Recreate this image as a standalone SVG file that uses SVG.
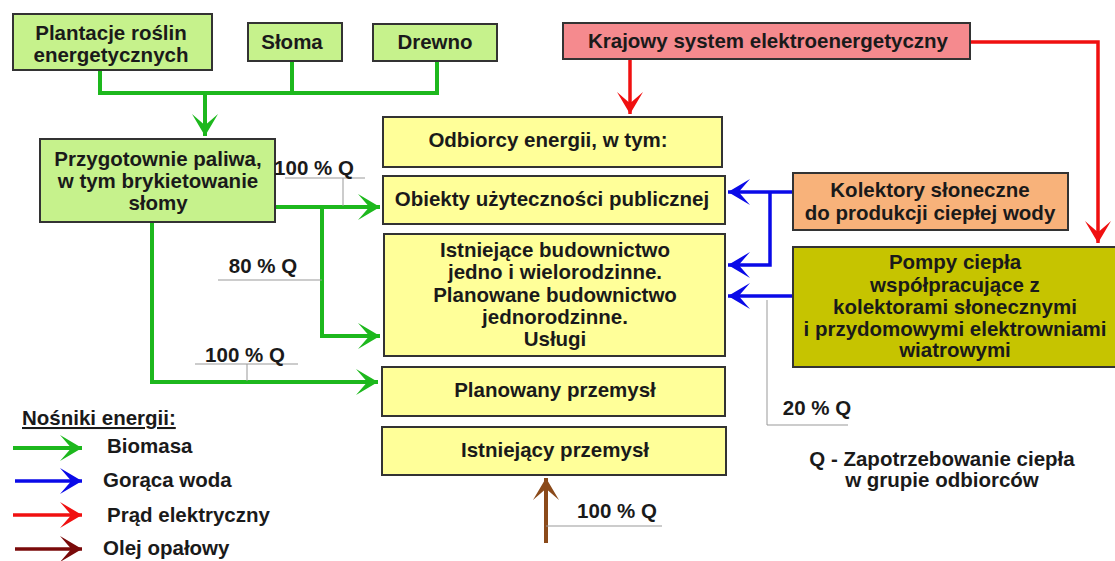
<svg xmlns="http://www.w3.org/2000/svg" width="1115" height="561" viewBox="0 0 1115 561">
<style>
text{font-family:"Liberation Sans",Arial,sans-serif;font-weight:bold;font-size:20.5px;fill:#1a1a1a;text-anchor:middle}
.box{stroke:#333;stroke-width:2}
.g{fill:#c6f28c}.y{fill:#ffff99}.r{fill:#f58a8e}.o{fill:#f8b27a}.ol{fill:#c6c400}
.lg{stroke:#1db81d;stroke-width:4;fill:none}
.lb{stroke:#0a0ae8;stroke-width:3.5;fill:none}
.lr{stroke:#f01010;stroke-width:3.5;fill:none}
.lbr{stroke:#8b4a1a;stroke-width:4;fill:none}
.thin{stroke:#999;stroke-width:1;fill:none}
.st{text-anchor:start}
</style>
<defs>
<marker id="ag" markerUnits="userSpaceOnUse" markerWidth="30" markerHeight="30" viewBox="-24 -15 26 30" refX="0" refY="0" orient="auto"><path d="M0,0 L-22,-13 L-12,-1.5 L-12,1.5 L-22,13 Z" fill="#1db81d"/></marker>
<marker id="ab" markerUnits="userSpaceOnUse" markerWidth="30" markerHeight="30" viewBox="-24 -15 26 30" refX="0" refY="0" orient="auto"><path d="M0,0 L-22,-13 L-12,-1.5 L-12,1.5 L-22,13 Z" fill="#0a0ae8"/></marker>
<marker id="ar" markerUnits="userSpaceOnUse" markerWidth="30" markerHeight="30" viewBox="-24 -15 26 30" refX="0" refY="0" orient="auto"><path d="M0,0 L-22,-13 L-12,-1.5 L-12,1.5 L-22,13 Z" fill="#f01010"/></marker>
<marker id="abr" markerUnits="userSpaceOnUse" markerWidth="30" markerHeight="30" viewBox="-24 -15 26 30" refX="0" refY="0" orient="auto"><path d="M0,0 L-22,-13 L-12,-1.5 L-12,1.5 L-22,13 Z" fill="#8b4a1a"/></marker>
<marker id="am" markerUnits="userSpaceOnUse" markerWidth="30" markerHeight="30" viewBox="-24 -15 26 30" refX="0" refY="0" orient="auto"><path d="M0,0 L-22,-13 L-12,-1.5 L-12,1.5 L-22,13 Z" fill="#7a0a0a"/></marker>
</defs>
<rect width="1115" height="561" fill="#fff"/>

<g id="connectors">
<path class="lg" d="M100,70 V93 H437 V62 M292,62 V93"/>
<path class="lg" d="M205,93 V136" marker-end="url(#ag)"/>
<path class="lg" d="M275,207 H380" marker-end="url(#ag)"/>
<path class="lg" d="M322,207 V336 H380" marker-end="url(#ag)"/>
<path class="lg" d="M152,222 V382 H378" marker-end="url(#ag)"/>
<path class="lr" d="M630,59 V114" marker-end="url(#ar)"/>
<path class="lr" d="M970,42 H1098 V243" marker-end="url(#ar)"/>
<path class="lb" d="M793,192 H728" marker-end="url(#ab)"/>
<path class="lb" d="M770,192 V265 H728" marker-end="url(#ab)"/>
<path class="lb" d="M793,296 H728" marker-end="url(#ab)"/>
<path class="lbr" d="M546,543 V478" marker-end="url(#abr)"/>
<path class="thin" d="M285,178 H365 M343,178 V206"/>
<path class="thin" d="M218,280 H322"/>
<path class="thin" d="M195,364 H298 M247,364 V381"/>
<path class="thin" d="M767,300 V425 H848"/>
<path class="thin" d="M546,526 H662"/>
</g>

<g id="plantacje"><rect class="box g" x="13" y="14" width="199" height="56"/><text x="111" y="39.5">Plantacje roślin</text><text x="111" y="61.5">energetycznych</text></g>
<g id="sloma"><rect class="box g" x="248" y="23" width="94" height="38"/><text x="292" y="49">Słoma</text></g>
<g id="drewno"><rect class="box g" x="373" y="24" width="124" height="37"/><text x="435" y="49">Drewno</text></g>
<g id="przygotownie"><rect class="box g" x="40" y="139" width="235" height="83"/><text x="158" y="166">Przygotownie paliwa,</text><text x="158" y="188">w tym brykietowanie</text><text x="158" y="210">słomy</text></g>
<g id="krajowy"><rect class="box r" x="563" y="23" width="407" height="36"/><text x="768" y="48">Krajowy system elektroenergetyczny</text></g>
<g id="odbiorcy"><rect class="box y" x="383" y="117" width="339" height="50"/><text x="548" y="147">Odbiorcy energii, w tym:</text></g>
<g id="obiekty"><rect class="box y" x="383" y="176" width="342" height="48"/><text x="552" y="206">Obiekty użyteczności publicznej</text></g>
<g id="istniejace"><rect class="box y" x="384" y="234" width="341" height="122"/><text x="555" y="257">Istniejące budownictwo</text><text x="555" y="279">jedno i wielorodzinne.</text><text x="555" y="302">Planowane budownictwo</text><text x="555" y="324">jednorodzinne.</text><text x="555" y="346">Usługi</text></g>
<g id="planowany"><rect class="box y" x="382" y="367" width="343" height="49"/><text x="555" y="397">Planowany przemysł</text></g>
<g id="istniejacy"><rect class="box y" x="382" y="427" width="344" height="48"/><text x="555" y="457">Istniejący przemysł</text></g>
<g id="kolektory"><rect class="box o" x="793" y="173" width="275" height="57"/><text x="930" y="197">Kolektory słoneczne</text><text x="930" y="220">do produkcji ciepłej wody</text></g>
<g id="pompy"><rect class="box ol" x="793" y="247" width="324" height="120"/><text x="955" y="269">Pompy ciepła</text><text x="955" y="292">współpracujące z</text><text x="955" y="314">kolektorami słonecznymi</text><text x="955" y="336">i przydomowymi elektrowniami</text><text x="955" y="357">wiatrowymi</text></g>

<g id="labels">
<text x="314" y="175">100 % Q</text>
<text x="263" y="273">80 % Q</text>
<text x="245" y="362">100 % Q</text>
<text x="817" y="415">20 % Q</text>
<text x="617" y="518">100 % Q</text>
<text x="942" y="466">Q - Zapotrzebowanie ciepła</text>
<text x="942" y="487">w grupie odbiorców</text>
</g>

<g id="legend">
<text class="st" x="22" y="425" text-decoration="underline">Nośniki energii:</text>
<path class="lg" d="M13,448 H82" marker-end="url(#ag)"/>
<path class="lb" d="M15,481 H82" marker-end="url(#ab)"/>
<path class="lr" d="M13,515 H82" marker-end="url(#ar)"/>
<path d="M15,549 H82" stroke="#7a0a0a" stroke-width="3.5" fill="none" marker-end="url(#am)"/>
<text class="st" x="107" y="453">Biomasa</text>
<text class="st" x="103" y="487">Gorąca woda</text>
<text class="st" x="107" y="522">Prąd elektryczny</text>
<text class="st" x="103" y="555">Olej opałowy</text>
</g>
</svg>
